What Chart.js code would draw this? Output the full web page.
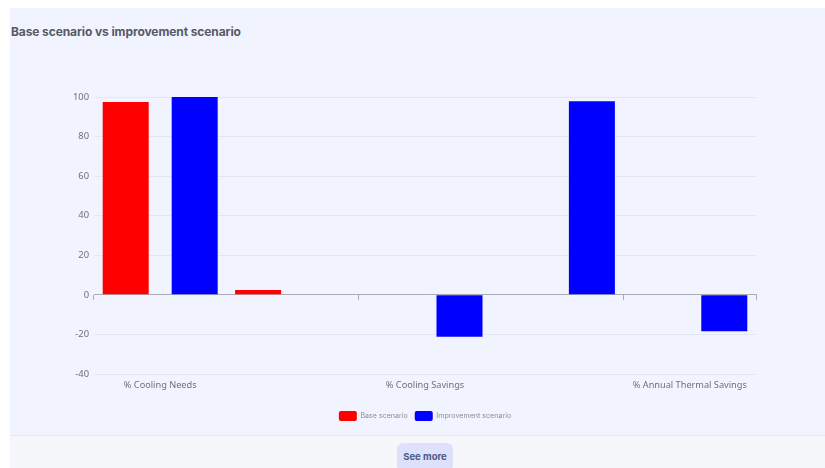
<!DOCTYPE html>
<html><head><meta charset="utf-8">
<script src="https://cdn.jsdelivr.net/npm/chart.js@4.4.1/dist/chart.umd.min.js"></script>
<style>
html,body{margin:0;padding:0;background:#fff;width:825px;height:468px;overflow:hidden;font-family:Inter,"Noto Sans",sans-serif;}
#panel{position:absolute;left:10px;top:8px;width:815px;height:427px;background:#f1f4fe;}
#footer{position:absolute;left:10px;top:435px;width:815px;height:33px;background:#f6f7fb;border-top:1px solid #e6e9f5;}
#title{position:absolute;left:11px;top:24px;font:700 12px Inter,sans-serif;color:#555a66;letter-spacing:-0.1px;}
#btn{position:absolute;left:397px;top:443px;width:56px;height:28px;border-radius:6px;background:#dde1fb;color:#4b5a88;font:700 9.5px Inter,sans-serif;text-align:center;line-height:28px;}
#wrap{position:absolute;left:0;top:0;width:825px;height:468px;}
</style></head>
<body>
<div id="panel"></div>
<div id="footer"></div>
<div id="title">Base scenario vs improvement scenario</div>
<div id="btn">See more</div>
<div id="wrap"><canvas id="c" width="825" height="468"></canvas></div>
<script>
const categories = ["% Cooling Needs", "% Heating Needs", "% Cooling Savings", "% Heating Savings", "% Annual Thermal Savings"];
const baseScenario = [97.5, 2.5, 0, 0, 0];
const improvementScenario = [100, 0, -21.2, 97.8, -18.4];
const seriesNames = ["Base scenario", "Improvement scenario"];
const yTicks = [-40, -20, 0, 20, 40, 60, 80, 100];

const shiftLegend = {
  id: 'shiftLegend',
  afterLayout(chart){
    if (chart.legend) { chart.legend.left += 25; chart.legend.right += 25; }
  }
};

new Chart(document.getElementById('c'), {
  type: 'bar',
  plugins: [shiftLegend],
  data: {
    labels: categories,
    datasets: [
      {label: seriesNames[0], data: baseScenario, backgroundColor: '#ff0000', borderWidth: 0, categoryPercentage: 1.042, barPercentage: 0.667},
      {label: seriesNames[1], data: improvementScenario, backgroundColor: '#0000ff', borderWidth: 0, categoryPercentage: 1.042, barPercentage: 0.667}
    ]
  },
  options: {
    responsive: false,
    animation: false,
    layout: {padding: {left: 44, right: 69, top: 97, bottom: 37}},
    plugins: {
      legend: {
        position: 'bottom',
        labels: {boxWidth: 18, boxHeight: 10, padding: 7, color: '#8a8d99', font: {size: 7.1, family: 'Inter'},
          useBorderRadius: true, borderRadius: 2}
      },
      tooltip: {enabled: false}
    },
    scales: {
      x: {
        type: 'category',
        offset: true,
        border: {display: false},
        grid: {display: false, drawTicks: false},
        ticks: {autoSkip: false, maxRotation: 0, color: '#6e7079', padding: 6, font: {size: 9.2, family: 'Noto Sans'},
          callback: function(v, i){ return i % 2 === 0 ? this.getLabelForValue(v) : ''; }},
        afterFit(s){ s.height = 30; }
      },
      x2: {
        type: 'category',
        position: {y: 0},
        offset: true,
        border: {display: true, color: '#a9acb6', width: 1},
        grid: {offset: true, drawOnChartArea: false, drawTicks: true, tickLength: 5,
          color: ctx => (ctx.index === undefined || ctx.index % 2 === 0) ? '#a9acb6' : 'rgba(0,0,0,0)'},
        ticks: {display: false}
      },
      y: {
        min: -40, max: 100,
        afterBuildTicks(s){ s.ticks = yTicks.map(v => ({value: v})); },
        border: {display: false},
        grid: {color: '#e3e7f3', drawTicks: false},
        ticks: {color: '#6e7079', padding: 5, font: {size: 9.4, family: 'Noto Sans'}},
        afterFit(s){ s.width = 50; }
      }
    }
  }
});
</script>
</body></html>
